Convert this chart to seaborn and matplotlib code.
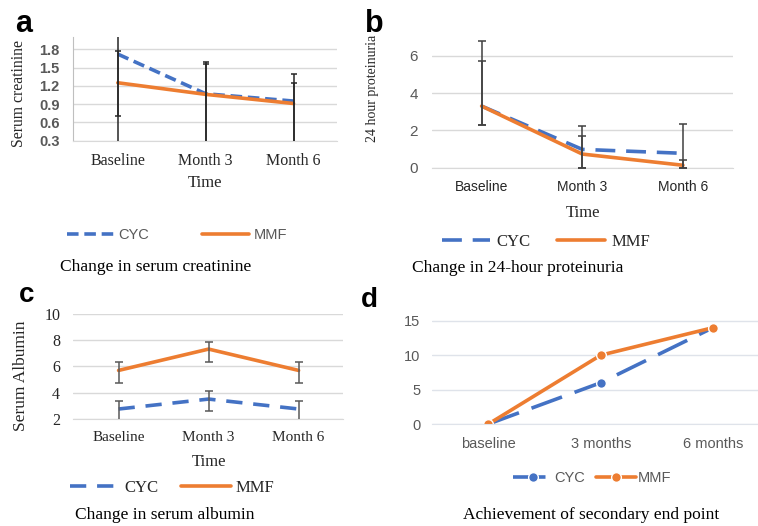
import matplotlib
matplotlib.use("Agg")
import matplotlib.pyplot as plt
import seaborn as sns
import pandas as pd

# ---- data ----
time_abc = ["Baseline", "Month 3", "Month 6"]
time_d = ["baseline", "3 months", "6 months"]

cyc_creat = [1.72, 1.07, 0.95]
mmf_creat = [1.25, 1.06, 0.91]
cyc_creat_hi = [0.50, 0.525, 0.44]
cyc_creat_lo = [1.50, 0.90, 0.80]
mmf_creat_hi = [0.52, 0.50, 0.33]
mmf_creat_lo = [0.55, 0.90, 0.80]

cyc_prot = [3.30, 0.98, 0.77]
mmf_prot = [3.30, 0.73, 0.13]
cyc_prot_hi = [3.50, 1.27, 1.55]
cyc_prot_lo = [1.00, 0.98, 0.77]
mmf_prot_hi = [2.41, 0.97, 0.28]
mmf_prot_lo = [1.00, 0.73, 0.13]

cyc_alb = [2.74, 3.50, 2.74]
mmf_alb = [5.69, 7.32, 5.69]
cyc_alb_hi = [0.62, 0.59, 0.62]
cyc_alb_lo = [1.00, 0.94, 1.00]
mmf_alb_hi = [0.66, 0.53, 0.66]
mmf_alb_lo = [1.00, 0.99, 1.00]

cyc_end = [0, 6, 14]
mmf_end = [0, 10, 14]

BLUE = "#4472C4"
ORANGE = "#ED7D31"
GREY = "#595959"
SERIF = ["Liberation Serif", "DejaVu Serif"]
SANS = ["Liberation Sans", "DejaVu Sans"]

sns.set_style("white")
plt.rcParams["font.family"] = SERIF


def long_df(times, cyc, mmf):
    return pd.DataFrame({
        "time": times * 2,
        "value": cyc + mmf,
        "group": ["CYC"] * len(cyc) + ["MMF"] * len(mmf),
    })


def draw_lines(ax, df, dash, lw, marker=None):
    kw = {}
    if marker:
        kw = dict(markers={"CYC": "o", "MMF": "o"}, markersize=7,
                  markeredgecolor="white", markeredgewidth=1)
    sns.lineplot(data=df, x="time", y="value", hue="group", style="group",
                 hue_order=["CYC", "MMF"], style_order=["CYC", "MMF"],
                 palette={"CYC": BLUE, "MMF": ORANGE},
                 dashes={"CYC": dash, "MMF": ""}, linewidth=lw,
                 ax=ax, **kw)
    h, l = ax.get_legend_handles_labels()
    ax.get_legend().remove()
    return h, l


def errs(ax, times, vals, lo, hi, color, cap):
    ax.errorbar(times, vals, yerr=[lo, hi], fmt="none", ecolor=color,
                elinewidth=1.1, capsize=cap, capthick=1.1, zorder=5)


def style_ax(ax, grid_color="#d9d9d9"):
    for s in ["top", "right", "left"]:
        ax.spines[s].set_visible(False)
    ax.spines["bottom"].set_color(grid_color)
    ax.grid(axis="y", color=grid_color, lw=1)
    ax.grid(axis="x", visible=False)
    ax.set_axisbelow(True)
    ax.set_xlabel("")
    ax.set_ylabel("")


def set_tick_fonts(ax, axis, family, size, color, weight="normal"):
    labels = ax.get_xticklabels() if axis == "x" else ax.get_yticklabels()
    for t in labels:
        t.set_fontfamily(family)
        t.set_fontsize(size)
        t.set_color(color)
        t.set_fontweight(weight)


fig = plt.figure(figsize=(7.58, 5.26), dpi=100)
W, H = 758, 526


def fx(px):
    return px / W


def fy(py):
    return 1 - py / H


# ---------------- panel a ----------------
ax_a = fig.add_axes([0.0963, 0.7325, 0.3489, 0.1971])
h, l = draw_lines(ax_a, long_df(time_abc, cyc_creat, mmf_creat), (3.2, 1.6), 2.6)
errs(ax_a, time_abc, cyc_creat, cyc_creat_lo, cyc_creat_hi, "#262626", 2.5)
errs(ax_a, time_abc, mmf_creat, mmf_creat_lo, mmf_creat_hi, "#262626", 2.5)
style_ax(ax_a)
ax_a.spines["left"].set_visible(True)
ax_a.spines["left"].set_color("#bfbfbf")
ax_a.set_xlim(-0.51, 2.5)
ax_a.set_ylim(0.3, 2.0)
ax_a.set_yticks([0.3, 0.6, 0.9, 1.2, 1.5, 1.8])
ax_a.set_yticklabels(["0.3", "0.6", "0.9", "1.2", "1.5", "1.8"])
ax_a.tick_params(axis="both", length=0)
ax_a.tick_params(axis="y", pad=9.5)
ax_a.tick_params(axis="x", pad=9)
set_tick_fonts(ax_a, "y", SANS, 10.5, GREY, "bold")
set_tick_fonts(ax_a, "x", SERIF, 11.5, "#262626")
ax_a.legend(h, l, loc="center", bbox_to_anchor=(fx(177), fy(235)),
            bbox_transform=fig.transFigure, ncol=2, frameon=False,
            handlelength=3.2, columnspacing=3.6, handletextpad=0.35,
            prop={"family": SANS, "size": 10.5}, labelcolor=GREY)

# ---------------- panel b ----------------
ax_b = fig.add_axes([0.5703, 0.6812, 0.3971, 0.2449])
h, l = draw_lines(ax_b, long_df(time_abc, cyc_prot, mmf_prot), (5.5, 3), 2.6)
errs(ax_b, time_abc, cyc_prot, cyc_prot_lo, cyc_prot_hi, "#404040", 2.8)
errs(ax_b, time_abc, mmf_prot, mmf_prot_lo, mmf_prot_hi, "#404040", 2.8)
style_ax(ax_b)
ax_b.set_xlim(-0.49, 2.5)
ax_b.set_ylim(0, 6.9)
ax_b.set_yticks([0, 2, 4, 6])
ax_b.set_yticklabels(["0", "2", "4", "6"])
ax_b.tick_params(axis="both", length=0)
ax_b.tick_params(axis="y", pad=10.5)
ax_b.tick_params(axis="x", pad=9)
set_tick_fonts(ax_b, "y", SANS, 11, GREY)
set_tick_fonts(ax_b, "x", SANS, 10, "#262626")
ax_b.legend(h, l, loc="center", bbox_to_anchor=(fx(546), fy(242)),
            bbox_transform=fig.transFigure, ncol=2, frameon=False,
            handlelength=2.9, columnspacing=1.6, handletextpad=0.35,
            prop={"family": SERIF, "size": 12}, labelcolor="#262626")

# ---------------- panel c ----------------
ax_c = fig.add_axes([0.0959, 0.2040, 0.3562, 0.1990])
h, l = draw_lines(ax_c, long_df(time_abc, cyc_alb, mmf_alb), (4.5, 3), 2.6)
errs(ax_c, time_abc, cyc_alb, cyc_alb_lo, cyc_alb_hi, "#595959", 2.8)
errs(ax_c, time_abc, mmf_alb, mmf_alb_lo, mmf_alb_hi, "#595959", 2.8)
style_ax(ax_c)
ax_c.set_xlim(-0.51, 2.49)
ax_c.set_ylim(2, 10)
ax_c.set_yticks([2, 4, 6, 8, 10])
ax_c.set_yticklabels(["2", "4", "6", "8", "10"])
ax_c.tick_params(axis="both", length=0)
ax_c.tick_params(axis="y", pad=9)
ax_c.tick_params(axis="x", pad=9)
set_tick_fonts(ax_c, "y", SERIF, 11.5, "#262626")
set_tick_fonts(ax_c, "x", SERIF, 11, "#262626")
ax_c.legend(h, l, loc="center", bbox_to_anchor=(fx(172), fy(488)),
            bbox_transform=fig.transFigure, ncol=2, frameon=False,
            handlelength=3.0, columnspacing=1.3, handletextpad=0.3,
            prop={"family": SERIF, "size": 12}, labelcolor="#262626")

# ---------------- panel d ----------------
ax_d = fig.add_axes([0.5703, 0.1939, 0.4297, 0.2002])
h, l = draw_lines(ax_d, long_df(time_d, cyc_end, mmf_end), (9, 3.7), 2.6, marker=True)
style_ax(ax_d, "#dfe3ea")
ax_d.set_xlim(-0.5, 2.4)
ax_d.set_ylim(0, 15.3)
ax_d.set_yticks([0, 5, 10, 15])
ax_d.set_yticklabels(["0", "5", "10", "15"])
ax_d.tick_params(axis="y", length=0, pad=8.5)
ax_d.tick_params(axis="x", length=0, pad=9)
ax_d.set_xticks([-0.5, 0.5, 1.5], minor=True)
ax_d.tick_params(axis="x", which="minor", length=4, color="#d0d5de", direction="out")
set_tick_fonts(ax_d, "y", SANS, 10.5, GREY)
set_tick_fonts(ax_d, "x", SANS, 10.5, GREY)
ax_d.legend(h, l, loc="center", bbox_to_anchor=(fx(592), fy(478)),
            bbox_transform=fig.transFigure, ncol=2, frameon=False,
            handlelength=2.7, columnspacing=0.8, handletextpad=0.1,
            prop={"family": SANS, "size": 10.5}, labelcolor=GREY)

# ---------------- texts ----------------
fig.text(fx(19), fy(93.5), "Serum creatinine", rotation=90, ha="center", va="center",
         fontsize=11.3, family=SERIF, color="#262626")
fig.text(fx(372.5), fy(88.5), "24 hour proteinuria", rotation=90, ha="center", va="center",
         fontsize=10, family=SERIF, color="#262626")
fig.text(fx(21.5), fy(376), "Serum Albumin", rotation=90, ha="center", va="center",
         fontsize=12.5, family=SERIF, color="#262626")

fig.text(fx(205), fy(183), "Time", ha="center", va="center", fontsize=12, family=SERIF, color="#262626")
fig.text(fx(583), fy(213), "Time", ha="center", va="center", fontsize=12, family=SERIF, color="#262626")
fig.text(fx(209), fy(462), "Time", ha="center", va="center", fontsize=12, family=SERIF, color="#262626")

fig.text(fx(60), fy(267), "Change in serum creatinine", ha="left", va="center",
         fontsize=12.5, family=SERIF, color="black")
fig.text(fx(412), fy(268), "Change in 24-hour proteinuria", ha="left", va="center",
         fontsize=12.5, family=SERIF, color="black")
fig.text(fx(75), fy(515), "Change in serum albumin", ha="left", va="center",
         fontsize=12.5, family=SERIF, color="black")
fig.text(fx(463), fy(515), "Achievement of secondary end point", ha="left", va="center",
         fontsize=12.5, family=SERIF, color="black")

fig.text(fx(15), fy(32), "a", ha="left", va="baseline", fontsize=22,
         fontweight="bold", family=SANS, color="black")
fig.text(fx(365), fy(32), "b", ha="left", va="baseline", fontsize=22,
         fontweight="bold", family=SANS, color="black")
fig.text(fx(19), fy(302), "c", ha="left", va="baseline", fontsize=20,
         fontweight="bold", family=SANS, color="black")
fig.text(fx(361), fy(307), "d", ha="left", va="baseline", fontsize=20,
         fontweight="bold", family=SANS, color="black")

fig.savefig("out.png", dpi=100)
